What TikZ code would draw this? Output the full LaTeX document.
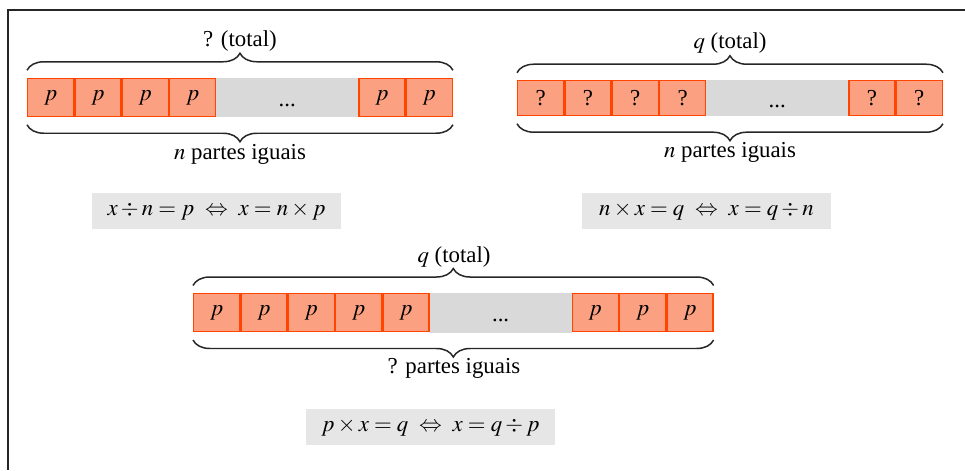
\documentclass[tikz,border=0pt]{standalone}
\usepackage{mathptmx}
\usepackage{fontspec}
\setmainfont{Liberation Serif}
\usetikzlibrary{positioning,decorations.pathreplacing}

\definecolor{salmao}{RGB}{252,160,130}
\definecolor{laranja}{RGB}{255,69,0}
\definecolor{cinzagap}{RGB}{217,217,217}
\definecolor{cinzaeq}{RGB}{230,230,230}

\tikzset{
  parte/.style={draw=laranja, fill=salmao, line width=0.7pt, inner sep=0pt,
    minimum width=0.922cm, minimum height=0.765cm},
  lacuna/.style={fill=cinzagap, inner sep=0pt, outer sep=0pt,
    minimum width=2.84cm, minimum height=0.79cm,
    text height=0.46cm, text depth=0.1cm},
  chave/.style={decorate, decoration={brace, amplitude=0.34cm},
    line width=0.85pt, black!85},
  equacao/.style={fill=cinzaeq, minimum width=4.98cm, minimum height=0.72cm}
}

\begin{document}
\begin{tikzpicture}[font=\fontsize{13}{15}\selectfont]
  \useasboundingbox (0,0) rectangle (19.3,-9.4);
  % moldura
  \draw[line width=0.75pt, black!85] (0.16,-9.4) -- (0.16,-0.2) -- (19.3,-0.2);
  % divisao: x / n = p
  \node[parte] (a1) at (1.013,-1.95) {$p$};
  \node[parte, right=0pt of a1] (a2) {$p$};
  \node[parte, right=0pt of a2] (a3) {$p$};
  \node[parte, right=0pt of a3] (a4) {$p$};
  \node[lacuna, right=0pt of a4] (ag) {...};
  \node[parte, right=0pt of ag] (a5) {$p$};
  \node[parte, right=0pt of a5] (a6) {$p$};
  \draw[chave] ([yshift=0.15cm]a1.north west) -- ([yshift=0.15cm]a6.north east);
  \draw[chave] ([yshift=-0.15cm]a6.south east) -- ([yshift=-0.15cm]a1.south west);
  \node (ta) at (4.8,-0.82) {? (total)};
  \node (ba) at (4.8,-3.08) {$n$ partes iguais};
  \node[equacao] (ea) at (4.33,-4.22)
    {$x \div n = p \ \Leftrightarrow\ x = n \times p$};
  % partilha: n x = q
  \node[parte, minimum height=0.695cm] (b1) at (10.813,-1.964) {?};
  \node[parte, minimum height=0.695cm, right=0pt of b1] (b2) {?};
  \node[parte, minimum height=0.695cm, right=0pt of b2] (b3) {?};
  \node[parte, minimum height=0.695cm, right=0pt of b3] (b4) {?};
  \node[lacuna, minimum height=0.72cm, right=0pt of b4] (bg) {...};
  \node[parte, minimum height=0.695cm, right=0pt of bg] (b5) {?};
  \node[parte, minimum height=0.695cm, right=0pt of b5] (b6) {?};
  \draw[chave] ([yshift=0.15cm]b1.north west) -- ([yshift=0.15cm]b6.north east);
  \draw[chave] ([yshift=-0.15cm]b6.south east) -- ([yshift=-0.15cm]b1.south west);
  \node (tb) at (14.6,-0.85) {$q$ (total)};
  \node (bb) at (14.6,-3.04) {$n$ partes iguais};
  \node[equacao] (eb) at (14.13,-4.22)
    {$n \times x = q \ \Leftrightarrow\ x = q \div n$};
  % medida: p x = q
  \node[parte] (c1) at (4.333,-6.255) {$p$};
  \node[parte, right=0pt of c1] (c2) {$p$};
  \node[parte, right=0pt of c2] (c3) {$p$};
  \node[parte, right=0pt of c3] (c4) {$p$};
  \node[parte, right=0pt of c4] (c5) {$p$};
  \node[lacuna, right=0pt of c5] (cg) {...};
  \node[parte, right=0pt of cg] (c6) {$p$};
  \node[parte, right=0pt of c6] (c7) {$p$};
  \node[parte, right=0pt of c7] (c8) {$p$};
  \draw[chave] ([yshift=0.15cm]c1.north west) -- ([yshift=0.15cm]c8.north east);
  \draw[chave] ([yshift=-0.15cm]c8.south east) -- ([yshift=-0.15cm]c1.south west);
  \node (tc) at (9.08,-5.13) {$q$ (total)};
  \node (bc) at (9.08,-7.36) {? partes iguais};
  \node[equacao] (ec) at (8.61,-8.54)
    {$p \times x = q \ \Leftrightarrow\ x = q \div p$};
\end{tikzpicture}
\end{document}
